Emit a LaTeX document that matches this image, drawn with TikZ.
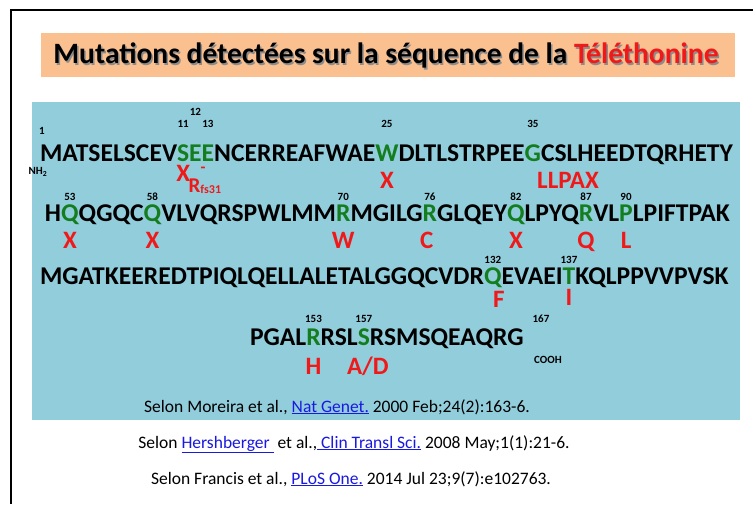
\documentclass[tikz,border=0pt]{standalone}
\usepackage{fontspec}
\setmainfont{Carlito}
\definecolor{panelblue}{RGB}{146,205,220}
\definecolor{titlepeach}{RGB}{250,192,144}
\definecolor{seqgreen}{RGB}{20,125,30}
\definecolor{mutred}{RGB}{240,25,25}
\definecolor{linkblue}{RGB}{25,25,225}
\tikzset{
  seq/.style={font=\fontsize{25.6}{25.6}\selectfont\bfseries, inner sep=0pt, outer sep=0pt, anchor=base west},
  gseq/.style={seq, text=seqgreen},
  num/.style={font=\fontsize{11}{11}\selectfont\bfseries, inner sep=0pt, anchor=base},
  mut/.style={font=\fontsize{25}{25}\selectfont\bfseries, text=mutred, inner sep=0pt, anchor=base},
  endlbl/.style={font=\fontsize{11}{11}\selectfont\bfseries, inner sep=0pt},
  ref/.style={font=\fontsize{17.5}{17.5}\selectfont, inner sep=0pt, anchor=base},
  ttl/.style={font=\fontsize{29.5}{29.5}\selectfont\bfseries, inner sep=0pt, anchor=base}
}
\newcommand{\lk}[1]{\textcolor{linkblue}{\underline{#1}}}
\begin{document}
\begin{tikzpicture}[x=1pt,y=1pt]
\useasboundingbox (0,0) rectangle (753,504);
\fill[white] (0,0) rectangle (753,504);
% frame
\draw[line width=2.5pt] (11,0) -- (11,494) -- (753,494);
% title
\fill[titlepeach] (41,427) rectangle (735,471);
\node[ttl, text=black!45] (titleshadow) at (387.5,438.5) {Mutations détectées sur la séquence de la Téléthonine};
\node[ttl] (title) at (386,440) {Mutations détectées sur la séquence de la \textcolor{mutred}{Téléthonine}};
% panel
\fill[panelblue] (32,84) rectangle (740,402);
% rows
\coordinate (rn1) at (0,376);
\coordinate (rn12) at (0,388);
\coordinate (rn2) at (0,303);
\coordinate (rn3) at (0,240);
\coordinate (rn4) at (0,181);
\coordinate (rmx) at (0,322.5);
\coordinate (rm1) at (0,315);
\coordinate (rmr) at (0,311);
\coordinate (rm2) at (0,255);
\coordinate (rm3) at (0,196);
\coordinate (rm4) at (0,129);
% line 1
\node[seq] (l1a) at (40,342) {MATSELSCEV};
\node[gseq] (s11) at (l1a.base east) {S};
\node[gseq] (e12) at (s11.base east) {E};
\node[gseq] (e13) at (e12.base east) {E};
\node[seq] (l1b) at (e13.base east) {NCERREAFWAE};
\node[gseq] (w25) at (l1b.base east) {W};
\node[seq] (l1c) at (w25.base east) {DLTLSTRPEE};
\node[gseq] (g35) at (l1c.base east) {G};
\node[seq] (l1d) at (g35.base east) {CSLHEEDTQRHETY};
% line 2
\node[seq] (l2a) at (45,282) {H};
\node[gseq] (q53) at (l2a.base east) {Q};
\node[seq] (l2b) at (q53.base east) {QGQC};
\node[gseq] (q58) at (l2b.base east) {Q};
\node[seq] (l2c) at (q58.base east) {VLVQRSPWLMM};
\node[gseq] (r70) at (l2c.base east) {R};
\node[seq] (l2d) at (r70.base east) {MGILG};
\node[gseq] (r76) at (l2d.base east) {R};
\node[seq] (l2e) at (r76.base east) {GLQEY};
\node[gseq] (q82) at (l2e.base east) {Q};
\node[seq] (l2f) at (q82.base east) {LPYQ};
\node[gseq] (r87) at (l2f.base east) {R};
\node[seq] (l2g) at (r87.base east) {VL};
\node[gseq] (p90) at (l2g.base east) {P};
\node[seq] (l2h) at (p90.base east) {LPIFTPAK};
% line 3
\node[seq] (l3a) at (40,219) {MGATKEEREDTPIQLQELLALETALGGQCVDR};
\node[gseq] (q132) at (l3a.base east) {Q};
\node[seq] (l3b) at (q132.base east) {EVAEI};
\node[gseq] (t137) at (l3b.base east) {T};
\node[seq] (l3c) at (t137.base east) {KQLPPVVPVSK};
% line 4
\node[seq] (l4a) at (250,158) {PGAL};
\node[gseq] (r153) at (l4a.base east) {R};
\node[seq] (l4b) at (r153.base east) {RSL};
\node[gseq] (s157) at (l4b.base east) {S};
\node[seq] (l4c) at (s157.base east) {RSMSQEAQRG};
% numbers
\node[num] (n1) at ([xshift=2pt]l1a.west |- 0,369) {1};
\node[num] (n11) at (s11 |- rn1) {11};
\node[num] (n12) at (e12 |- rn12) {12};
\node[num] (n13) at (e13 |- rn1) {13};
\node[num] (n25) at (w25 |- rn1) {25};
\node[num] (n35) at (g35 |- rn1) {35};
\node[num] (n53) at (q53 |- rn2) {53};
\node[num] (n58) at (q58 |- rn2) {58};
\node[num] (n70) at (r70 |- rn2) {70};
\node[num] (n76) at (r76 |- rn2) {76};
\node[num] (n82) at (q82 |- rn2) {82};
\node[num] (n87) at (r87 |- rn2) {87};
\node[num] (n90) at (p90 |- rn2) {90};
\node[num] (n132) at (q132 |- rn3) {132};
\node[num] (n137) at (t137 |- rn3) {137};
\node[num] (n153) at (r153 |- rn4) {153};
\node[num] (n157) at (s157 |- rn4) {157};
\node[num] (n167) at (541,181) {167};
\node[endlbl] (nh2) at (38,332) {NH\textsubscript{2}};
\node[endlbl] (cooh) at (548,144) {COOH};
% mutations
\node[mut] (m11) at (s11 |- rmx) {X};
\node[mut, anchor=center, font=\fontsize{16}{16}\selectfont\bfseries] (mdash) at ([xshift=-5pt]e13.center |- 0,334) {-};
\node[mut, anchor=base west, font=\fontsize{21}{21}\selectfont\bfseries] (mrfs) at ([xshift=-7pt]e12.center |- rmr) {R\raisebox{-1pt}{\fontsize{12}{12}\selectfont fs31}};
\node[mut] (m25) at (w25 |- rm1) {X};
\node[mut, anchor=base west] (m35) at ([xshift=-4pt]g35.east |- rm1) {LLPAX};
\node[mut] (m53) at (q53 |- rm2) {X};
\node[mut] (m58) at (q58 |- rm2) {X};
\node[mut] (m70) at (r70 |- rm2) {W};
\node[mut] (m76) at ([xshift=-3pt]r76.center |- rm2) {C};
\node[mut] (m82) at (q82 |- rm2) {X};
\node[mut] (m87) at (r87 |- rm2) {Q};
\node[mut] (m90) at (p90 |- rm2) {L};
\node[mut] (m132) at ([xshift=6pt]q132.center |- rm3) {F};
\node[mut] (m137) at ([yshift=2pt]t137 |- rm3) {I};
\node[mut] (m153) at (r153 |- rm4) {H};
\node[mut] (m157) at ([xshift=4pt]s157.center |- rm4) {A/D};
% references
\node[ref] (ref1) at (337,92) {Selon Moreira et al., \lk{Nat Genet.} 2000 Feb;24(2):163-6.};
\node[ref] (ref2) at (354,56) {Selon \lk{Hershberger\ } et al.,\lk{\ Clin Transl Sci.} 2008 May;1(1):21-6.};
\node[ref] (ref3) at (351,20) {Selon Francis et al., \lk{PLoS One.} 2014 Jul 23;9(7):e102763.};
\end{tikzpicture}
\end{document}
